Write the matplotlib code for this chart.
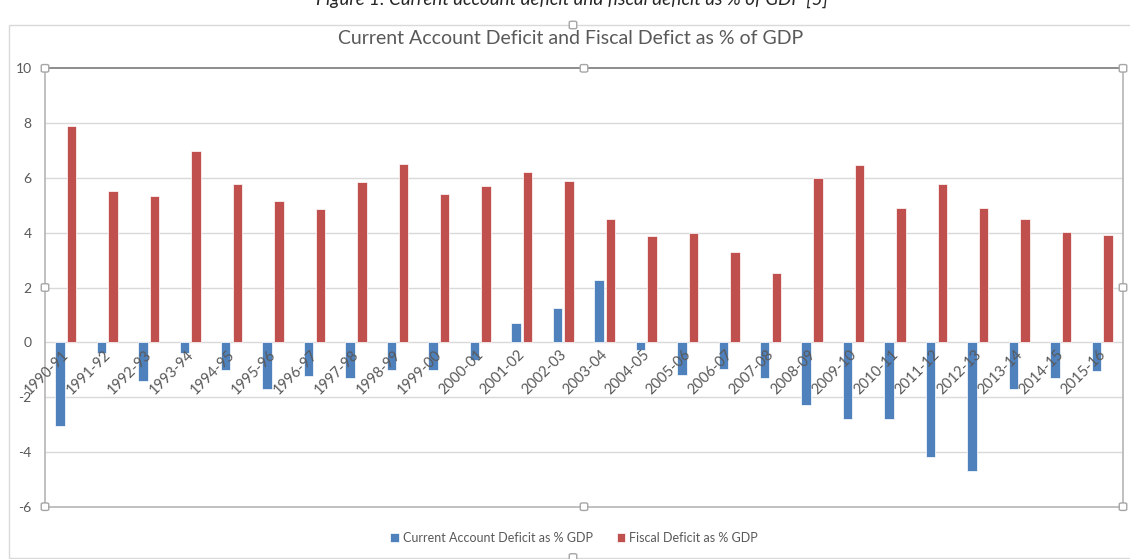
import matplotlib
matplotlib.use("Agg")
import matplotlib.pyplot as plt
from matplotlib.patches import Rectangle, FancyBboxPatch
import numpy as np

# Fiscal years shown on the category axis
years = ["1990-91", "1991-92", "1992-93", "1993-94", "1994-95", "1995-96",
         "1996-97", "1997-98", "1998-99", "1999-00", "2000-01", "2001-02",
         "2002-03", "2003-04", "2004-05", "2005-06", "2006-07", "2007-08",
         "2008-09", "2009-10", "2010-11", "2011-12", "2012-13", "2013-14",
         "2014-15", "2015-16"]

# Current account balance, % of GDP
current_account = [-3.04, -0.38, -1.40, -0.38, -1.00, -1.70, -1.22, -1.31,
                   -1.00, -1.00, -0.64, 0.71, 1.27, 2.28, -0.27, -1.20,
                   -0.98, -1.29, -2.30, -2.79, -2.79, -4.20, -4.69, -1.69,
                   -1.29, -1.03]

# Fiscal deficit, % of GDP
fiscal = [7.89, 5.54, 5.35, 6.99, 5.76, 5.15, 4.88, 5.84, 6.51, 5.40,
          5.71, 6.20, 5.88, 4.50, 3.88, 3.98, 3.31, 2.54, 5.98, 6.46,
          4.89, 5.76, 4.89, 4.50, 4.01, 3.93]

series_names = ["Current Account Deficit as % GDP", "Fiscal Deficit as % GDP"]
y_ticks = [-6, -4, -2, 0, 2, 4, 6, 8, 10]

W, H = 1130, 559
BLUE = "#4f81bd"
RED = "#c0504d"
TXT = "#595959"
GRID = "#d9d9d9"

plt.rcParams["font.family"] = ["Lato", "DejaVu Sans"]

fig = plt.figure(figsize=(W / 100, H / 100), dpi=100)


def fx(px):
    return px / W


def fy(py):
    return 1 - py / H


# plot area in pixel coordinates
L, R, T, B = 45.0, 1123.0, 68.3, 506.7
ax = fig.add_axes([fx(L), fy(B), fx(R) - fx(L), fy(T) - fy(B)])

x = np.arange(len(years))
bw = 0.229
off = 0.141
b1 = ax.bar(x - off, current_account, bw, color=BLUE, edgecolor="white",
            linewidth=0.5, zorder=2, label=series_names[0])
b2 = ax.bar(x + off, fiscal, bw, color=RED, edgecolor="white",
            linewidth=0.5, zorder=2, label=series_names[1])

ax.set_xlim(-0.5, len(years) - 0.5)
ax.set_ylim(y_ticks[0], y_ticks[-1])
ax.set_yticks(y_ticks)
ax.set_yticklabels([str(v) for v in y_ticks])
ax.tick_params(axis="y", length=0, pad=9.5, labelsize=10, labelcolor=TXT)
ax.set_xticks([])
for v in y_ticks[1:-1]:
    ax.axhline(v, color=GRID, lw=1.0, zorder=1)

for side in ("left", "right", "bottom"):
    ax.spines[side].set_color("#b5b5b5")
    ax.spines[side].set_linewidth(1.2)
ax.spines["top"].set_color("#8c8c8c")
ax.spines["top"].set_linewidth(1.4)

# category labels hanging from the zero line
for i, lab in enumerate(years):
    ax.annotate(lab, xy=(i, 0), xycoords="data", xytext=(6, -5),
                textcoords="offset pixels", rotation=45, ha="right",
                va="top", fontsize=10.5, color=TXT, zorder=5)

# chart title
fig.text(fx(571), fy(38), "Current Account Deficit and Fiscal Defict as % of GDP",
         ha="center", va="center", fontsize=14, color=TXT)

# caption above the chart frame
fig.text(fx(572), fy(5),
         "Figure 1: Current account deficit and fiscal deficit as % of GDP [5]",
         ha="center", va="baseline", fontsize=13.5, style="italic",
         color="#262626")

# chart area frame
fig.patches.append(Rectangle((fx(8.5), fy(557.5)), fx(1140) - fx(8.5),
                             fy(24.5) - fy(557.5), transform=fig.transFigure,
                             fill=False, edgecolor=GRID, lw=1.0))

# legend
fig.legend(handles=[b1, b2], labels=series_names, loc="center",
           bbox_to_anchor=(fx(574), fy(537.5)), ncol=2, frameon=False,
           fontsize=9, labelcolor=TXT, handlelength=0.7, handleheight=0.7,
           handletextpad=0.3, columnspacing=1.9)


def handle(px, py, s=7.5):
    fig.patches.append(FancyBboxPatch((fx(px - s / 2), fy(py + s / 2)),
                                      s / W, s / H,
                                      boxstyle="round,pad=0,rounding_size=0.002",
                                      transform=fig.transFigure,
                                      facecolor="white", edgecolor="#a6a6a6",
                                      lw=1.0, zorder=10))


mx = (L + R) / 2
my = (T + B) / 2
for hx, hy in [(L, T), (mx, T), (R, T), (L, my), (R, my), (L, B), (mx, B), (R, B)]:
    handle(hx, hy)
handle(573, 25)
handle(573, 557.5)

fig.savefig("out.png", dpi=100)
